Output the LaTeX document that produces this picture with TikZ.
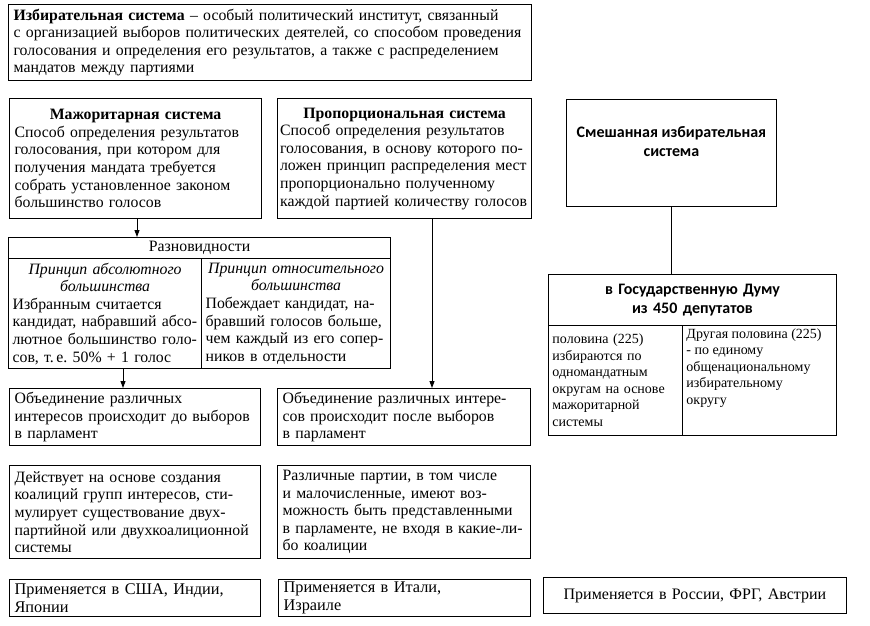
\documentclass[tikz,border=0pt]{standalone}
\usepackage{fontspec}
\setmainfont{Liberation Serif}
\newfontfamily\calibri{Carlito}
\usetikzlibrary{positioning,calc,arrows.meta}

\tikzset{
    book/.style={draw, line width=1.2pt, anchor=north west, inner xsep=5pt, inner ysep=0pt,
        align=left, font=\fontsize{15.8}{17.6}\selectfont},
    plain/.style={draw, line width=0.9pt, anchor=north west, inner xsep=5pt, inner ysep=0pt,
        align=left, font=\fontsize{14}{16.5}\selectfont},
    arr/.style={line width=0.9pt, -{Triangle[length=7pt,width=5pt]}}
}

\begin{document}
\begin{tikzpicture}[x=1pt,y=-1pt]
    \useasboundingbox (0,0) rectangle (870,625);

    % Definition
    \node[book, minimum width=523pt, minimum height=76pt, text width=513pt] (def) at (8,4)
        {\textbf{Избирательная система} -- особый политический институт, связанный\\
         с организацией выборов политических деятелей, со способом проведения\\
         голосования и определения его результатов, а также с распределением\\
         мандатов между партиями};

    % Two classic systems
    \node[book, minimum width=252pt, minimum height=120pt, text width=242pt] (major) at (9,98)
        {\centerline{\bfseries Мажоритарная система}
         Способ определения результатов\\
         голосования, при котором для\\
         получения мандата требуется\\
         собрать установленное законом\\
         большинство голосов};
    \node[book, minimum width=254pt, minimum height=120pt, text width=249pt, inner xsep=2.5pt] (prop) at (277,98)
        {\centerline{\bfseries Пропорциональная система}
         Способ определения результатов\\
         голосования, в основу которого по-\\
         ложен принцип распределения мест\\
         пропорционально полученному\\
         каждой партией количеству голосов};

    % Mixed system
    \node[plain, minimum width=210pt, minimum height=107pt,
          font=\calibri\bfseries\fontsize{16}{19}\selectfont] (mixed) at (566,99)
        {\parbox[c][103pt][t]{200pt}{\centering\vspace*{25pt}Смешанная избирательная\\система}};

    % Varieties of the majority system
    \node[book, minimum width=382pt, minimum height=21pt, text width=372pt, align=center] (raz) at (8,237)
        {Разновидности};
    \node[book, minimum width=193pt, minimum height=110pt, text width=185pt, inner xsep=4pt] (absol) at (8,258)
        {\centerline{\itshape Принцип абсолютного}
         \centerline{\itshape большинства}
         Избранным считается\\
         кандидат, набравший абсо-\\
         лютное большинство голо-\\
         сов, т.\,е.\ 50\% + 1 голос};
    \node[book, minimum width=189pt, minimum height=110pt, text width=181pt, inner xsep=4pt] (relat) at (201,258)
        {\centerline{\itshape Принцип относительного}
         \centerline{\itshape большинства}
         Побеждает кандидат, на-\\
         бравший голосов больше,\\
         чем каждый из его сопер-\\
         ников в отдельности};

    % Duma
    \node[plain, minimum width=288pt, minimum height=51pt, text width=278pt,
          align=center, font=\calibri\bfseries\fontsize{16}{19}\selectfont] (duma) at (548,274)
        {в Государственную Думу\\из 450 депутатов\hspace{18pt}};
    \node[plain, minimum width=134pt, minimum height=110pt, text width=126pt, inner xsep=4pt] (half1) at (548,325)
        {половина (225)\\
         избираются по\\
         одномандатным\\
         округам на основе\\
         мажоритарной\\
         системы};
    \node[plain, minimum width=154pt, minimum height=110pt, inner xsep=4pt] (half2) at (682,325)
        {\parbox[t][104pt][t]{146pt}{\raggedright
         Другая половина (225)\\
         - по единому\\
         общенациональному\\
         избирательному\\
         округу}};

    % Consequences
    \node[book, minimum width=251pt, minimum height=57pt, text width=241pt] (objl) at (9,388)
        {Объединение различных\\
         интересов происходит до выборов\\
         в парламент};
    \node[book, minimum width=253pt, minimum height=57pt, text width=243pt] (objr) at (277,388)
        {Объединение различных интере-\\
         сов происходит после выборов\\
         в парламент};
    \node[book, minimum width=251pt, minimum height=93pt, text width=241pt] (actl) at (9,465)
        {Действует на основе создания\\
         коалиций групп интересов, сти-\\
         мулирует существование двух-\\
         партийной или двухкоалиционной\\
         системы};
    \node[book, minimum width=253pt, minimum height=93pt, text width=243pt] (actr) at (277,465)
        {Различные партии, в том числе\\
         и малочисленные, имеют воз-\\
         можность быть представленными\\
         в парламенте, не входя в какие-ли-\\
         бо коалиции};

    % Countries
    \node[book, minimum width=251pt, minimum height=37pt, text width=241pt,
          font=\fontsize{16.3}{17.6}\selectfont] (usel) at (9,579)
        {Применяется в США, Индии,\\Японии};
    \node[book, minimum width=252pt, minimum height=37pt, text width=242pt,
          font=\fontsize{16.3}{17.6}\selectfont] (user) at (278,579)
        {Применяется в Итали,\\Израиле};
    \node[plain, minimum width=303pt, minimum height=36pt, text width=293pt, align=center,
          font=\fontsize{16}{17.5}\selectfont] (usem) at (543,577)
        {Применяется в России, ФРГ, Австрии};

    % Connectors
    \draw[arr] ([xshift=128pt]major.south west) -- ([xshift=128pt]major.south west |- raz.north);
    \draw[arr] ([xshift=115pt]absol.south west) -- ([xshift=115pt]absol.south west |- objl.north);
    \draw[arr] ([xshift=155pt]prop.south west) -- ([xshift=155pt]prop.south west |- objr.north);
    \draw[line width=0.9pt] (mixed.south) -- (mixed.south |- duma.north);

\end{tikzpicture}
\end{document}
